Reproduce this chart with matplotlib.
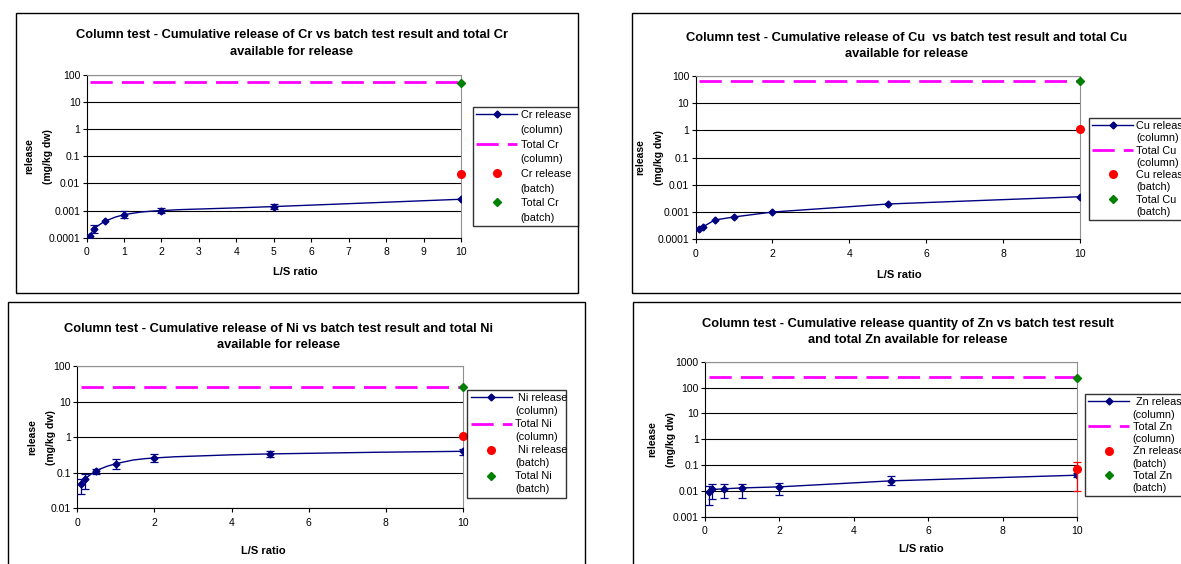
import matplotlib
matplotlib.use("Agg")
import matplotlib.pyplot as plt
from matplotlib.path import Path
from matplotlib.patches import PathPatch, Rectangle
from matplotlib.lines import Line2D
import numpy as np

plt.rcParams['font.family'] = ['Liberation Sans', 'DejaVu Sans']

W, H = 1181, 564

# L/S ratio of the column fractions
ls_ratio = [0.1, 0.2, 0.5, 1, 2, 5, 10]

# Cr
cr_release = [0.000114, 0.00021, 0.00040, 0.00069, 0.0010, 0.0014, 0.0026]
cr_err_x = [0.2, 1, 2, 5]
cr_err_hi = [0.00029, 0.00095, 0.0012, 0.0017]
cr_err_lo = [0.000145, 0.00051, 0.00082, 0.0011]
cr_total = 52
cr_batch = 0.0214
cr_total_batch = 50

# Cu
cu_release = [0.00023, 0.00029, 0.00051, 0.00066, 0.0010, 0.00197, 0.00365]
cu_total = 62
cu_batch = 1.12
cu_total_batch = 62

# Ni
ni_release = [0.0475, 0.066, 0.113, 0.177, 0.26, 0.338, 0.40]
ni_err_x = ls_ratio
ni_err_hi = [0.068, 0.093, 0.13, 0.24, 0.33, 0.40, 0.47]
ni_err_lo = [0.025, 0.035, 0.095, 0.13, 0.205, 0.27, 0.31]
ni_total = 25
ni_batch = 1.11
ni_total_batch = 25

# Zn
zn_release = [0.0094, 0.0113, 0.012, 0.013, 0.0143, 0.0244, 0.0404]
zn_err_x = ls_ratio
zn_err_hi = [0.016, 0.018, 0.019, 0.019, 0.021, 0.036, 0.048]
zn_err_lo = [0.0028, 0.005, 0.0052, 0.0054, 0.007, 0.017, 0.033]
zn_total = 255
zn_batch = 0.069
zn_batch_hi = 0.128
zn_batch_lo = 0.0097
zn_total_batch = 240

NAVY = '#000080'
MAGENTA = '#ff00ff'
DASH = (0, (8, 3.3))


def fx(px):
    return px / W


def fy(py):
    return 1 - py / H


def smooth_path(x, y):
    # Excel-like smoothed line: bezier through the points, in (x, log y)
    lx = np.array(x, float)
    ly = np.log10(np.array(y, float))
    n = len(lx)
    verts = [(lx[0], ly[0])]
    codes = [Path.MOVETO]
    for i in range(n - 1):
        a = max(i - 1, 0)
        d = min(i + 2, n - 1)
        c1 = (lx[i] + (lx[i + 1] - lx[a]) / 6, ly[i] + (ly[i + 1] - ly[a]) / 6)
        c2 = (lx[i + 1] - (lx[d] - lx[i]) / 6, ly[i + 1] - (ly[d] - ly[i]) / 6)
        verts += [c1, c2, (lx[i + 1], ly[i + 1])]
        codes += [Path.CURVE4] * 3
    verts = [(vx, 10 ** vy) for vx, vy in verts]
    return Path(verts, codes)


def panel(fig, frame, box, title, title_xy, xlab_xy, ylab_x, el, release,
          total, batch, total_batch, yticks, ylabels, xstep, smooth=True,
          err=None, batch_err=None, leg_box=None, leg_space=0.0,
          leg_names=None):
    # outer frame of the chart
    x0, y0, x1, y1 = frame
    fig.add_artist(Rectangle((fx(x0), fy(y1)), fx(x1 - x0), (y1 - y0) / H,
                             transform=fig.transFigure, fill=False,
                             edgecolor='black', lw=1.0))
    l, t, r, b = box
    ax = fig.add_axes([fx(l), fy(b), fx(r - l), (b - t) / H])
    ax.set_yscale('log')
    ax.set_xlim(0, 10)
    ax.set_ylim(yticks[-1], yticks[0])
    ax.set_yticks(yticks)
    ax.set_yticklabels(ylabels)
    ax.minorticks_off()
    ax.set_xticks(np.arange(0, 10.01, xstep))
    ax.set_xticklabels([str(int(v)) for v in np.arange(0, 10.01, xstep)])
    ax.tick_params(labelsize=7.5, length=3, width=0.8, direction='out')
    ax.tick_params(axis='x', pad=4)
    ax.tick_params(axis='y', pad=1.5)
    ax.yaxis.grid(True, color='black', lw=0.8)
    ax.set_axisbelow(True)
    for s in ['top', 'right']:
        ax.spines[s].set_color('#909090')
    for s in ['left', 'bottom']:
        ax.spines[s].set_color('black')

    ax.plot(ls_ratio, [total] * len(ls_ratio), color=MAGENTA, lw=2.0,
            ls=DASH, zorder=3)
    if smooth:
        ax.add_patch(PathPatch(smooth_path(ls_ratio, release), fill=False,
                               edgecolor=NAVY, lw=1.0, zorder=4))
        ax.plot(ls_ratio, release, ls='none', marker='D', ms=3.5, color=NAVY,
                zorder=5)
    else:
        ax.plot(ls_ratio, release, marker='D', ms=3.5, color=NAVY, lw=1.0,
                zorder=5)
    if err is not None:
        ex, ehi, elo = err
        ey = [release[ls_ratio.index(v)] for v in ex]
        yerr = [np.array(ey) - np.array(elo), np.array(ehi) - np.array(ey)]
        ax.errorbar(ex, ey, yerr=yerr, fmt='none', ecolor=NAVY, elinewidth=0.9,
                    capsize=3, capthick=0.9, zorder=5)
    if batch_err is not None:
        bhi, blo = batch_err
        ax.errorbar([10], [batch], yerr=[[batch - blo], [bhi - batch]],
                    fmt='none', ecolor='red', elinewidth=0.9, capsize=3,
                    capthick=0.9, zorder=5, clip_on=False)
    ax.plot([10], [batch], ls='none', marker='o', ms=5.5, color='red',
            zorder=6, clip_on=False)
    ax.plot([10], [total_batch], ls='none', marker='D', ms=4, color='green',
            zorder=6, clip_on=False)

    fig.text(fx(title_xy[0]), fy(title_xy[1]), title, ha='center', va='center',
             fontsize=9.3, fontweight='bold', linespacing=1.5)
    fig.text(fx(xlab_xy[0]), fy(xlab_xy[1]), 'L/S ratio', ha='center',
             va='center', fontsize=8, fontweight='bold')
    fig.text(fx(ylab_x), fy((t + b) / 2), 'release\n(mg/kg dw)', rotation=90,
             ha='center', va='center', fontsize=7.5, fontweight='bold',
             linespacing=2.1)

    # legend: one row per text line so the symbol sits on the first line
    blank = Line2D([], [], color='none')
    handles = [
        Line2D([], [], color=NAVY, lw=1.0, marker='D', ms=3.5), blank,
        Line2D([], [], color=MAGENTA, lw=2.0, ls=DASH), blank,
        Line2D([], [], ls='none', marker='o', ms=5.5, color='red'), blank,
        Line2D([], [], ls='none', marker='D', ms=4, color='green'), blank,
    ]
    if leg_names is None:
        leg_names = [f'{el} release', f'{el} release']
    labels = [leg_names[0], '(column)', f'Total {el}', '(column)',
              leg_names[1], '(batch)', f'Total {el}', '(batch)']
    lx, ly, lw, lh = leg_box
    leg = fig.legend(handles, labels, loc='upper left', mode='expand',
                     bbox_to_anchor=(fx(lx), fy(ly + lh), fx(lw), lh / H),
                     bbox_transform=fig.transFigure, fontsize=7.8,
                     frameon=True, fancybox=False, edgecolor='black',
                     handlelength=3.8, handletextpad=0.3,
                     labelspacing=leg_space, borderpad=0.3,
                     borderaxespad=0)
    leg.get_frame().set_linewidth(1.0)
    return ax


fig = plt.figure(figsize=(W / 100, H / 100), dpi=100)

ticks_4 = [100, 10, 1, 0.1, 0.01, 0.001, 0.0001]
labels_4 = ['100', '10', '1', '0.1', '0.01', '0.001', '0.0001']

panel(fig, (16, 13, 578, 293), (86.6, 74.7, 461, 237.7),
      'Column test - Cumulative release of Cr vs batch test result and total Cr\navailable for release',
      (291.7, 43.5), (295, 272), 39, 'Cr', cr_release, cr_total, cr_batch,
      cr_total_batch, ticks_4, labels_4, 1,
      err=(cr_err_x, cr_err_hi, cr_err_lo), leg_box=(473, 107, 105, 122),
      leg_space=0.43)

panel(fig, (631.5, 13, 1200, 293), (695.5, 75.7, 1080.4, 239.3),
      'Column test - Cumulative release of Cu  vs batch test result and total Cu\navailable for release',
      (906.6, 46), (899, 275), 649.5, 'Cu', cu_release, cu_total, cu_batch,
      cu_total_batch, ticks_4, labels_4, 2, smooth=False,
      leg_box=(1088.7, 117.7, 130, 103), leg_space=0.21)

panel(fig, (8.3, 302, 585, 600), (77.2, 366, 463, 508.3),
      'Column test - Cumulative release of Ni vs batch test result and total Ni\navailable for release',
      (278.5, 337), (263.5, 551), 42, 'Ni', ni_release, ni_total, ni_batch,
      ni_total_batch, [100, 10, 1, 0.1, 0.01],
      ['100', '10', '1', '0.1', '0.01'], 2,
      err=(ni_err_x, ni_err_hi, ni_err_lo), leg_box=(467.4, 390, 98.3, 107),
      leg_space=0.28, leg_names=[' Ni release', ' Ni release'])

panel(fig, (633.3, 302, 1200, 600), (705, 361.7, 1077, 516.7),
      'Column test - Cumulative release quantity of Zn vs batch test result\nand total Zn available for release',
      (907.6, 332), (921.7, 549), 661.5, 'Zn', zn_release, zn_total, zn_batch,
      zn_total_batch, [1000, 100, 10, 1, 0.1, 0.01, 0.001],
      ['1000', '100', '10', '1', '0.1', '0.01', '0.001'], 2, smooth=False,
      err=(zn_err_x, zn_err_hi, zn_err_lo),
      batch_err=(zn_batch_hi, zn_batch_lo), leg_box=(1085, 394, 130, 102),
      leg_space=0.21, leg_names=[' Zn release', 'Zn release'])

fig.savefig('out.png', dpi=100)
